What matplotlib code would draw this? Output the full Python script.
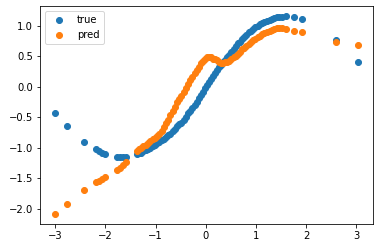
import matplotlib
matplotlib.use("Agg")
import matplotlib.pyplot as plt

x = [-3.00, -2.76, -2.42, -2.19, -2.13, -2.07, -2.01, -1.76, -1.70, -1.64, -1.58,
     -1.37, -1.33, -1.29, -1.24, -1.20, -1.15, -1.11, -1.06, -1.02, -0.97, -0.93,
     -0.88, -0.84, -0.79, -0.75, -0.71, -0.66, -0.62, -0.57, -0.53, -0.49, -0.44,
     -0.40, -0.35, -0.31, -0.27, -0.22, -0.18, -0.13, -0.09, -0.05, -0.01, 0.03,
     0.07, 0.11, 0.15, 0.19, 0.23, 0.27, 0.31, 0.35, 0.39, 0.43, 0.47, 0.51, 0.56,
     0.60, 0.64, 0.68, 0.73, 0.77, 0.81, 0.86, 0.90, 0.95, 0.99, 1.04, 1.08, 1.13,
     1.17, 1.22, 1.27, 1.31, 1.36, 1.41, 1.46, 1.51, 1.59, 1.76, 1.91, 2.59, 3.03]

y_true = [-0.43, -0.64, -0.91, -1.03, -1.05, -1.08, -1.10, -1.15, -1.15, -1.15, -1.15,
          -1.10, -1.09, -1.08, -1.06, -1.04, -1.02, -1.00, -0.98, -0.96, -0.93, -0.91,
          -0.88, -0.86, -0.83, -0.80, -0.77, -0.73, -0.69, -0.65, -0.62, -0.59, -0.54,
          -0.50, -0.44, -0.40, -0.35, -0.30, -0.25, -0.19, -0.13, -0.08, -0.03, 0.02,
          0.07, 0.13, 0.18, 0.23, 0.28, 0.32, 0.36, 0.40, 0.44, 0.48, 0.52, 0.57, 0.62,
          0.67, 0.71, 0.74, 0.78, 0.82, 0.85, 0.89, 0.92, 0.95, 0.97, 1.00, 1.02, 1.04,
          1.06, 1.08, 1.10, 1.11, 1.13, 1.14, 1.15, 1.15, 1.16, 1.14, 1.11, 0.77, 0.40]

y_pred = [-2.09, -1.92, -1.70, -1.56, -1.54, -1.51, -1.48, -1.37, -1.33, -1.29, -1.24,
          -1.05, -1.03, -1.00, -0.97, -0.95, -0.92, -0.89, -0.86, -0.84, -0.81, -0.78,
          -0.72, -0.66, -0.60, -0.54, -0.47, -0.40, -0.34, -0.26, -0.20, -0.15, -0.08,
          -0.02, 0.05, 0.11, 0.16, 0.22, 0.27, 0.33, 0.38, 0.42, 0.45, 0.48,
          0.49, 0.48, 0.46, 0.45, 0.43, 0.41, 0.39, 0.39, 0.40, 0.40, 0.42, 0.45, 0.48,
          0.51, 0.54, 0.57, 0.61, 0.64, 0.67, 0.70, 0.73, 0.76, 0.78, 0.81, 0.83, 0.86,
          0.88, 0.90, 0.92, 0.93, 0.95, 0.96, 0.96, 0.96, 0.95, 0.92, 0.90, 0.73, 0.69]

fig = plt.figure(figsize=(380 / 72, 248 / 72), dpi=72)
ax = fig.add_axes([40 / 380, 1 - 224 / 248, 333 / 380, 218 / 248])
ax.scatter(x, y_true, label="true")
ax.scatter(x, y_pred, label="pred")
ax.legend(loc="upper left")
fig.savefig("out.png", dpi=72)
